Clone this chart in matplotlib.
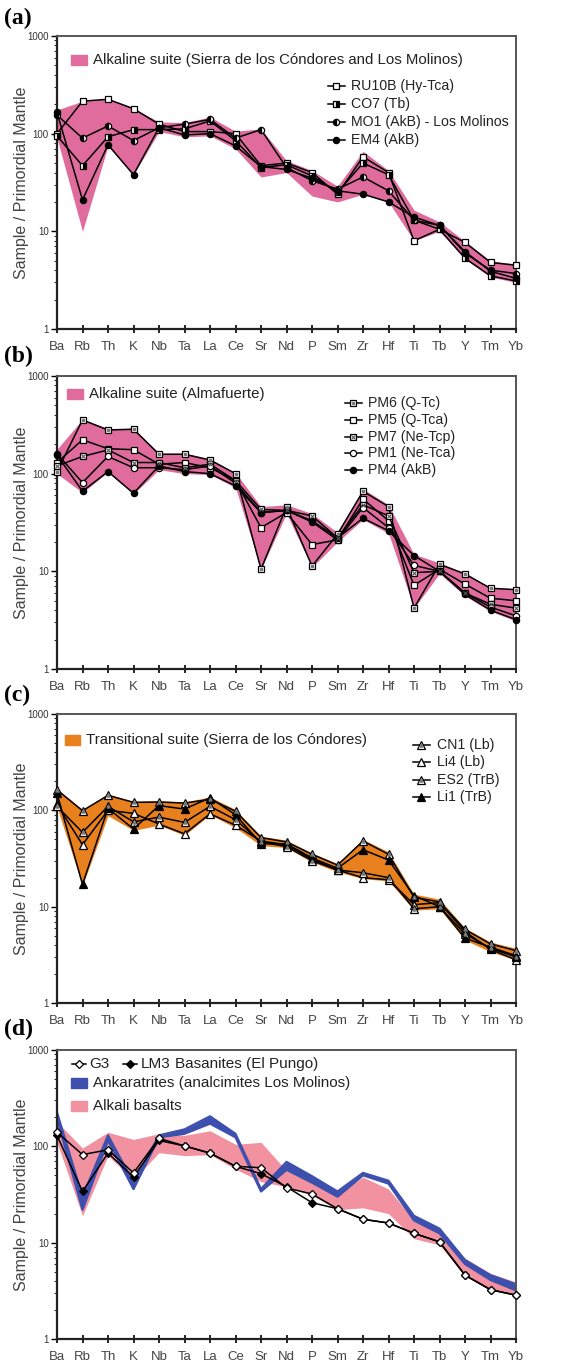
import matplotlib

matplotlib.use("Agg")
import matplotlib.pyplot as plt  # noqa: E402
from matplotlib.patches import Rectangle  # noqa: E402

plt.rcParams["font.family"] = ["Liberation Sans", "DejaVu Sans"]

ELEMENTS = ["Ba", "Rb", "Th", "K", "Nb", "Ta", "La", "Ce", "Sr", "Nd",
            "P", "Sm", "Zr", "Hf", "Ti", "Tb", "Y", "Tm", "Yb"]

# (a) Alkaline suite (Sierra de los Cóndores and Los Molinos)
RU10B = [100, 215, 225, 180, 125, 105, 105, 100, 47, 50, 40, 24, 58, 40, 8.0, 10.5, 7.7, 4.8, 4.5]
CO7 = [95, 47, 93, 110, 110, 112, 135, 85, 45, 48, 37, 25, 50, 38, 13, 10.5, 5.3, 3.5, 3.1]
MO1 = [155, 90, 120, 85, 115, 125, 140, 90, 110, 45, 33, 27, 36, 26, 13, 11.5, 6.0, 4.0, 3.7]
EM4 = [165, 21, 77, 38, 115, 97, 100, 75, 46, 43, 35, 26, 24, 20, 14, 11.5, 6.2, 3.9, 3.3]
FIELD_A_HI = [175, 215, 228, 182, 132, 130, 148, 106, 112, 53, 42, 29, 66, 42, 16.5, 12.5, 7.9, 5.0, 4.6]
FIELD_A_LO = [90, 10, 75, 38, 105, 93, 95, 70, 36, 40, 23, 20, 24, 20, 8.0, 10, 5.2, 3.4, 3.0]

# (b) Alkaline suite (Almafuerte)
PM6 = [105, 355, 280, 285, 158, 158, 138, 100, 10.5, 46, 11.3, 24, 66, 46, 4.2, 11.8, 9.4, 6.7, 6.5]
PM5 = [130, 222, 180, 176, 125, 130, 115, 85, 28, 40, 18.8, 21, 55, 33, 7.2, 10.5, 7.4, 5.3, 5.0]
PM7 = [120, 150, 175, 130, 130, 115, 125, 85, 43, 42, 37, 22, 48, 37, 9.7, 10, 6.0, 4.6, 4.2]
PM1 = [160, 81, 150, 115, 115, 110, 120, 80, 40, 42, 32, 21, 45, 28, 11.5, 10, 6.0, 4.3, 3.5]
PM4 = [155, 66, 105, 63, 120, 105, 100, 75, 40, 42, 33, 22, 35, 26, 14.5, 10, 5.8, 4.0, 3.2]
FIELD_B_HI = [178, 360, 290, 292, 162, 162, 142, 102, 46, 48, 39, 25, 70, 48, 15, 12.2, 9.6, 6.8, 6.6]
FIELD_B_LO = [100, 64, 104, 62, 110, 100, 98, 72, 10.5, 39, 11, 20, 34, 24.5, 4.2, 9.5, 5.6, 3.9, 3.1]

# (c) Transitional suite (Sierra de los Cóndores)
CN1 = [163, 99, 143, 121, 122, 119, 130, 98, 52, 47, 35, 27, 48, 35, 12.5, 11.2, 5.8, 4.1, 3.5]
LI4 = [115, 44, 100, 93, 72, 57, 92, 70, 48, 44, 31, 24, 20, 19, 10.5, 11, 5.5, 3.6, 2.8]
ES2 = [110, 59, 110, 76, 85, 75, 110, 80, 47, 42, 30, 24, 22.5, 20, 9.5, 10, 5.2, 3.7, 3.0]
LI1 = [150, 17, 105, 64, 112, 103, 135, 90, 45, 45, 32, 25, 39, 30.5, 13, 10, 4.7, 3.8, 3.1]
FIELD_C_HI = [168, 102, 148, 124, 126, 122, 138, 102, 54, 49, 36, 28, 50, 37, 13.5, 12, 6.0, 4.3, 3.7]
FIELD_C_LO = [108, 16.5, 88, 62, 70, 55, 90, 66, 43, 41, 29, 23, 19.5, 18.5, 9.2, 9.5, 4.5, 3.4, 2.8]

# (d) Basanites (El Pungo), Ankaratrites, Alkali basalts
G3 = [140, 82, 92, 53, 121, 101, 85, 62, 60, 37, 32, 22.5, 17.5, 16, 12.5, 10.2, 4.6, 3.25, 2.85]
LM3 = [130, 34, 85, 48, 115, 101, 85, 62, 52, 38, 26, 22.5, 17.5, 16, 12.5, 10.2, 4.6, 3.25, 2.85]
ANK_HI = [225, 30, 130, 42, 130, 150, 205, 135, 36, 69, 49, 34, 53, 44, 19, 14, 6.6, 4.6, 3.7]
ANK_LO = [195, 22, 115, 36, 124, 135, 172, 124, 34, 57, 42, 30, 50, 41, 17, 12.5, 6.0, 4.1, 3.2]
ALK_HI = [180, 96, 140, 118, 135, 130, 145, 105, 110, 56, 42, 32, 48, 36, 17, 12.5, 6.9, 4.8, 3.9]
ALK_LO = [110, 19, 80, 45, 86, 80, 82, 58, 43, 38, 31, 22, 23, 20, 11, 9.5, 4.5, 3.2, 2.9]

PINK = "#E06C9E"
ORANGE = "#E8801E"
BLUE = "#3E50AE"
SALMON = "#F2919F"

W, H = 575, 1367
fig = plt.figure(figsize=(W / 100, H / 100), dpi=100)


def make_axes(top_px, bottom_px):
    left, right = 57, 516
    ax = fig.add_axes([left / W, 1 - bottom_px / H, (right - left) / W, (bottom_px - top_px) / H])
    ax.set_yscale("log")
    ax.set_ylim(1, 1000)
    ax.set_xlim(0, len(ELEMENTS) - 1)
    ax.set_xticks(range(len(ELEMENTS)), labels=ELEMENTS)
    ax.set_yticks([1, 10, 100, 1000], labels=["1", "10", "100", "1000"])
    ax.tick_params(axis="x", direction="inout", length=6, width=1.2, labelsize=9.5,
                   labelcolor="#444444", pad=6)
    ax.tick_params(axis="y", which="major", direction="out", length=4, width=1,
                   labelsize=7, labelcolor="#333333", pad=2)
    ax.tick_params(axis="y", which="minor", direction="out", length=2, width=0.6)
    for side in ("left", "bottom"):
        ax.spines[side].set_linewidth(1.6)
        ax.spines[side].set_color("#222222")
    for side in ("top", "right"):
        ax.spines[side].set_linewidth(1.4)
        ax.spines[side].set_color("#555555")
    ax.set_ylabel("Sample / Primordial Mantle", fontsize=11.5, color="#444444")
    ax.yaxis.set_label_coords(-0.062, 0.5)
    return ax


def panel_label(ax, text, y):
    ax.text(-0.115, y, text, transform=ax.transAxes, fontsize=17, fontweight="bold",
            family="Liberation Serif", ha="left", va="bottom")


def field_key(ax, x, y, color, text, w=0.034, h=0.036, size=10.8):
    ax.add_patch(Rectangle((x, y - h / 2), w, h, transform=ax.transAxes, color=color,
                           clip_on=False, zorder=5))
    ax.text(x + w + 0.013, y, text, transform=ax.transAxes, fontsize=size,
            color="#222222", va="center", ha="left")


def sample_key(ax, x, y, text, **mk):
    ax.plot([x, x + 0.037], [y, y], transform=ax.transAxes, color="black", lw=1.1,
            clip_on=False, zorder=5)
    ax.plot([x + 0.018], [y], transform=ax.transAxes, linestyle="none", clip_on=False,
            zorder=6, **mk)
    ax.text(x + 0.051, y, text, transform=ax.transAxes, fontsize=10.2, color="#222222",
            va="center", ha="left")


def series(ax, values, **mk):
    ax.plot(range(len(ELEMENTS)), values, color="black", lw=1.1, zorder=3,
            clip_on=False, **mk)


X = range(len(ELEMENTS))
SQ = dict(marker="s", markersize=4.5, markeredgecolor="black", markeredgewidth=0.9)
CI = dict(marker="o", markersize=4.5, markeredgecolor="black", markeredgewidth=0.9)
TR = dict(marker="^", markersize=5.5, markeredgecolor="black", markeredgewidth=0.9)

# ---- (a)
ax = make_axes(36, 329)
ax.fill_between(X, FIELD_A_LO, FIELD_A_HI, color=PINK, lw=0, zorder=1)
mk_a = [
    (RU10B, "RU10B (Hy-Tca)", dict(SQ, markerfacecolor="white")),
    (CO7, "CO7 (Tb)", dict(SQ, markerfacecolor="black", fillstyle="right", markerfacecoloralt="white")),
    (MO1, "MO1 (AkB) - Los Molinos", dict(CI, markerfacecolor="black", fillstyle="left", markerfacecoloralt="white")),
    (EM4, "EM4 (AkB)", dict(CI, markerfacecolor="black")),
]
for i, (vals, name, mk) in enumerate(mk_a):
    series(ax, vals, **mk)
    sample_key(ax, 0.590, 0.829 - i * 0.0615, name, **mk)
field_key(ax, 0.031, 0.918, PINK, "Alkaline suite (Sierra de los Cóndores and Los Molinos)")
panel_label(ax, "(a)", 1.025)

# ---- (b)
ax = make_axes(376, 669)
ax.fill_between(X, FIELD_B_LO, FIELD_B_HI, color=PINK, lw=0, zorder=1)
inner_sq = dict(marker="s", markersize=1.8, color="#777777", linestyle="none")
inner_x = dict(marker="x", markersize=2.5, color="#555555", linestyle="none", markeredgewidth=0.8)
mk_b = [
    (PM6, "PM6 (Q-Tc)", dict(SQ, markerfacecolor="white"), inner_sq),
    (PM5, "PM5 (Q-Tca)", dict(SQ, markerfacecolor="white"), None),
    (PM7, "PM7 (Ne-Tcp)", dict(SQ, markerfacecolor="white"), inner_x),
    (PM1, "PM1 (Ne-Tca)", dict(CI, markerfacecolor="white"), None),
    (PM4, "PM4 (AkB)", dict(CI, markerfacecolor="black"), None),
]
for i, (vals, name, mk, inner) in enumerate(mk_b):
    series(ax, vals, **mk)
    y = 0.908 - i * 0.0575
    sample_key(ax, 0.627, y, name, **mk)
    if inner:
        ax.plot(X, vals, zorder=4, clip_on=False, **inner)
        ax.plot([0.645], [y], transform=ax.transAxes, zorder=7, clip_on=False, **inner)
field_key(ax, 0.022, 0.939, PINK, "Alkaline suite (Almafuerte)")
panel_label(ax, "(b)", 1.032)

# ---- (c)
ax = make_axes(714, 1003)
ax.fill_between(X, FIELD_C_LO, FIELD_C_HI, color=ORANGE, lw=0, zorder=1)
inner_tr = dict(marker="^", markersize=2.2, color="#777777", linestyle="none")
mk_c = [
    (CN1, "CN1 (Lb)", dict(TR, markerfacecolor="white"), inner_tr),
    (LI4, "Li4 (Lb)", dict(TR, markerfacecolor="white"), None),
    (ES2, "ES2 (TrB)", dict(TR, markerfacecolor="white"), inner_tr),
    (LI1, "Li1 (TrB)", dict(TR, markerfacecolor="black"), None),
]
for i, (vals, name, mk, inner) in enumerate(mk_c):
    series(ax, vals, **mk)
    y = 0.893 - i * 0.060
    sample_key(ax, 0.776, y, name, **mk)
    if inner:
        ax.plot(X, vals, zorder=4, clip_on=False, **inner)
        ax.plot([0.794], [y], transform=ax.transAxes, zorder=7, clip_on=False, **inner)
field_key(ax, 0.017, 0.910, ORANGE, "Transitional suite (Sierra de los Cóndores)")
panel_label(ax, "(c)", 1.028)

# ---- (d)
ax = make_axes(1050, 1339)
ax.fill_between(X, ALK_LO, ALK_HI, color=SALMON, lw=0, zorder=1)
ax.fill_between(X, ANK_LO, ANK_HI, color=BLUE, lw=0, zorder=2)
ax.plot(X, ANK_HI, color=BLUE, lw=1.6, zorder=2)
ax.plot(X, ANK_LO, color=BLUE, lw=1.6, zorder=2)
DI = dict(marker="D", markersize=4.5, markeredgecolor="black", markeredgewidth=0.9)
mk_lm3 = dict(DI, markerfacecolor="black")
mk_g3 = dict(DI, markerfacecolor="white")
series(ax, LM3, **mk_lm3)
series(ax, G3, **mk_g3)
for x0, name, mk in [(0.033, "G3", mk_g3), (0.144, "LM3", mk_lm3)]:
    ax.plot([x0, x0 + 0.030], [0.952, 0.952], transform=ax.transAxes, color="black", lw=1.1)
    ax.plot([x0 + 0.014], [0.952], transform=ax.transAxes, linestyle="none", **mk)
    ax.text(x0 + 0.038, 0.952, name, transform=ax.transAxes, fontsize=11,
            color="#222222", va="center", ha="left")
ax.text(0.257, 0.952, "Basanites (El Pungo)", transform=ax.transAxes, fontsize=11,
        color="#222222", va="center", ha="left")
field_key(ax, 0.031, 0.886, BLUE, "Ankaratrites (analcimites Los Molinos)", size=11)
field_key(ax, 0.031, 0.806, SALMON, "Alkali basalts", size=11)
panel_label(ax, "(d)", 1.035)

fig.savefig("out.png", dpi=100)
